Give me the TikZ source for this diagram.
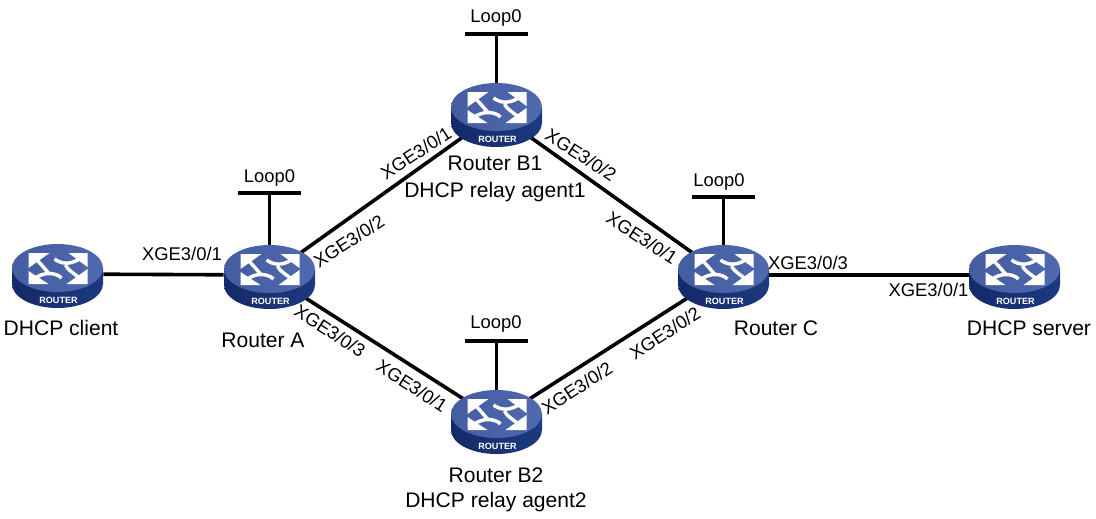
\documentclass[tikz,border=0pt]{standalone}
\usepackage{fontspec}
\setmainfont{Liberation Sans}
\usetikzlibrary{shapes.geometric}
\definecolor{routerTop}{RGB}{80,105,175}
\definecolor{routerTopDark}{RGB}{68,92,160}
\definecolor{routerSide}{RGB}{28,58,128}
\definecolor{routerSideDark}{RGB}{20,42,104}

\tikzset{
    routernode/.style={ellipse, inner sep=0pt, minimum width=68.25pt, minimum height=45pt},
    link/.style={line width=2.7pt, black},
    glyph/.style={line width=2.6pt, white},
    namelabel/.style={font=\fontsize{15.8pt}{18pt}\selectfont, anchor=base, inner sep=0pt},
    portlabel/.style={font=\fontsize{13.8pt}{16pt}\selectfont, inner sep=0pt},
    routertext/.style={font=\fontsize{6.8pt}{7pt}\selectfont\bfseries, white, inner sep=0pt}
}

% icon over the node, after the links
\newcommand{\routericon}[1]{
    \begin{scope}[shift={(#1)}]
        \shade[left color=routerSideDark, right color=routerSide] (-45.5,-6) -- (-45.5,10) .. controls (-45.5,23.25) and (-25.1,34) .. (0,34) .. controls (25.1,34) and (45.5,23.25) .. (45.5,10) -- (45.5,-6) -- cycle;
        \node[routertext] (#1text) at (1,26) {ROUTER};
        \begin{scope}[shift={(0,-6)}]
            \shade[left color=routerTopDark, right color=routerTop] (0,0) ellipse [x radius=45.5, y radius=24];
            \fill[white] (-29,-15) -- (-8,-15) -- (-29,0) -- cycle;
            \fill[white] (30,-15) -- (11,-15) -- (30,-1) -- cycle;
            \fill[white] (-29,16) -- (-9,16) -- (-29,3) -- cycle;
            \fill[white] (30,16) -- (9,16) -- (30,1) -- cycle;
            \draw[glyph] (-22,-9) .. controls (-16,-4) and (-12,2) .. (-8,6);
            \draw[glyph] (22,-9) .. controls (12,-3) and (4,-4) .. (-3,-9);
            \draw[glyph] (-22,10) .. controls (-14,4) and (-2,4) .. (4,10);
            \draw[glyph] (22,10) .. controls (16,5) and (10,2) .. (8,-3);
        \end{scope}
    \end{scope}
}

\begin{document}
\begin{tikzpicture}[x=0.75pt, y=-0.75pt]
    \useasboundingbox (0,0) rectangle (1096,518);
    \node[routernode] (client) at (57.5,274) {};
    \node[routernode] (ra) at (269.5,275) {};
    \node[routernode] (rb1) at (496.5,113) {};
    \node[routernode] (rb2) at (496.5,420) {};
    \node[routernode] (rc) at (723.5,275) {};
    \node[routernode] (server) at (1014.5,275) {};

    % links
    \draw[link] (client) -- (ra);
    \draw[link] (ra) -- (rb1);
    \draw[link] (ra) -- (rb2);
    \draw[link] (rb1) -- (rc);
    \draw[link] (rb2) -- (rc);
    \draw[link] (rc) -- (server);

    % loopbacks
    \foreach \rt/\y in {ra/193, rb1/34, rb2/341, rc/197} {
        \coordinate (\rt top) at (\rt |- 0,\y);
        \coordinate (\rt left) at ([xshift=-23.6pt]\rt top);
        \coordinate (\rt right) at ([xshift=23.6pt]\rt top);
        \draw[link] (\rt) -- (\rt top);
        \draw[link] (\rt left) -- (\rt right);
    }

    \foreach \rt in {client, ra, rb1, rb2, rc, server} {
        \routericon{\rt}
    }

    \node[portlabel] (loopa) at (269.5,178) {Loop0};
    \node[portlabel] (loopb1) at (496,18) {Loop0};
    \node[portlabel] (loopb2) at (496,324) {Loop0};
    \node[portlabel] (loopc) at (719,182) {Loop0};

    \node[namelabel] (nclient) at (61,335) {DHCP client};
    \node[namelabel] (nra) at (263,347) {Router A};
    \node[namelabel] (nrb1) at (495,170) {Router B1};
    \node[namelabel] (nagent1) at (495,197) {DHCP relay agent1};
    \node[namelabel] (nrb2) at (496,482) {Router B2};
    \node[namelabel] (nagent2) at (496,507) {DHCP relay agent2};
    \node[namelabel] (nrc) at (776,335) {Router C};
    \node[namelabel] (nserver) at (1029,335) {DHCP server};

    \node[portlabel] (p1) at (182,254) {XGE3/0/1};
    \node[portlabel] (p2) at (808,263) {XGE3/0/3};
    \node[portlabel] (p3) at (928.5,290) {XGE3/0/1};
    \node[portlabel, rotate=33] (p4) at (349,241) {XGE3/0/2};
    \node[portlabel, rotate=-33] (p5) at (330,331) {XGE3/0/3};
    \node[portlabel, rotate=33] (p6) at (416,153) {XGE3/0/1};
    \node[portlabel, rotate=-33] (p7) at (581,155) {XGE3/0/2};
    \node[portlabel, rotate=-33] (p8) at (642,238) {XGE3/0/1};
    \node[portlabel, rotate=-33] (p9) at (412,386) {XGE3/0/1};
    \node[portlabel, rotate=33] (p10) at (577,388) {XGE3/0/2};
    \node[portlabel, rotate=33] (p11) at (665,333) {XGE3/0/2};
\end{tikzpicture}
\end{document}
